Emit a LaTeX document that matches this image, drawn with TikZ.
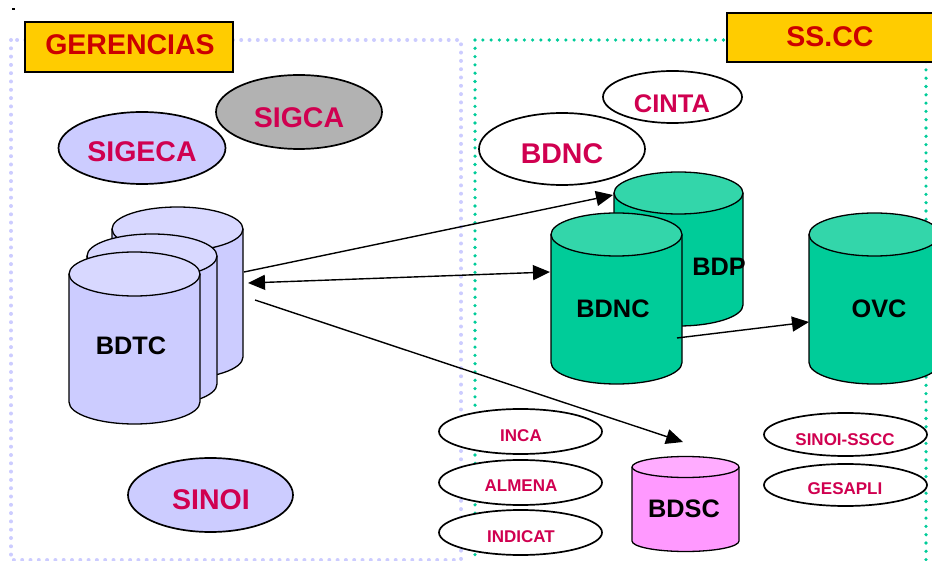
\documentclass[tikz,border=0pt]{standalone}
\usepackage{fontspec}
\setmainfont{Liberation Sans}
\usetikzlibrary{shapes.geometric,arrows.meta}

\definecolor{lav}{RGB}{204,204,255}
\definecolor{lavtop}{RGB}{216,216,255}
\definecolor{sea}{RGB}{0,204,153}
\definecolor{seatop}{RGB}{51,214,170}
\definecolor{pinkdb}{RGB}{255,153,255}
\definecolor{pinktop}{RGB}{255,172,255}
\definecolor{gold}{RGB}{255,204,0}
\definecolor{titlered}{RGB}{204,0,0}
\definecolor{appred}{RGB}{208,0,80}
\definecolor{grayapp}{RGB}{178,178,178}

% database drum: centre x, top centre y, bottom centre y, x radius, y radius, body fill, lid fill
\newcommand\dbdrum[7]{%
  \path[fill=#6] ({#1-#4},#2) -- ({#1-#4},#3)
    arc[start angle=180,end angle=0,x radius=#4,y radius=#5] -- ({#1+#4},#2) -- cycle;
  \draw[drum] ({#1-#4},#2) -- ({#1-#4},#3)
    arc[start angle=180,end angle=0,x radius=#4,y radius=#5] -- ({#1+#4},#2);
  \draw[drum,fill=#7] (#1,#2) ellipse[x radius=#4,y radius=#5];
}

\tikzset{
  drum/.style={draw=black, line width=1.3pt},
  lavframe/.style={draw=lav, line width=4pt, line cap=round, dash pattern=on 0pt off 8.3pt},
  seaframe/.style={draw=sea, line width=3.6pt, line cap=round, dash pattern=on 0pt off 8.3pt},
  titlebox/.style={draw=black, line width=1.3pt, fill=gold},
  titletext/.style={text=titlered, inner sep=0pt, font=\bfseries\fontsize{28.5}{30}\selectfont},
  app/.style={ellipse, draw=black, line width=1.7pt, inner sep=0pt},
  applabel/.style={text=appred, inner sep=0pt, font=\bfseries\fontsize{28.5}{30}\selectfont},
  midlabel/.style={text=appred, inner sep=0pt, font=\bfseries\fontsize{25.5}{27}\selectfont},
  smalllabel/.style={text=appred, inner sep=0pt, font=\bfseries\fontsize{17}{19}\selectfont},
  dblabel/.style={text=black, inner sep=0pt, font=\bfseries\fontsize{25.3}{27}\selectfont},
  link/.style={draw=black, line width=1.4pt, -{Triangle[length=17pt,width=15pt]}},
  duallink/.style={draw=black, line width=1.4pt, {Triangle[length=17pt,width=15pt]}-{Triangle[length=17pt,width=15pt]}},
}

\begin{document}
\begin{tikzpicture}[x=1pt,y=-1pt]
\useasboundingbox (0,0) rectangle (932,561);

% stray mark at the top left
\fill (12,8.5) rectangle (15,9.8);

% dotted group frames
\draw[lavframe] (11,40) rectangle (461,560);
\draw[seaframe] (475,40) rectangle (926,564);

% group titles
\draw[titlebox] (25,22) rectangle (233,72);
\node[titletext] (gerencias) at (130,45) {GERENCIAS};
\draw[titlebox] (727,13) rectangle (940,62);
\node[titletext] (sscc) at (830,37) {SS.CC};

% applications of the management side
\node[app, fill=lav, minimum width=167pt, minimum height=72pt] (sigecaE) at (142,148) {};
\node[applabel] (sigeca) at (142,152) {SIGECA};
\node[app, fill=grayapp, minimum width=166pt, minimum height=74pt] (sigcaE) at (299,112) {};
\node[applabel] (sigca) at (299,118) {SIGCA};
\node[app, fill=lav, minimum width=165pt, minimum height=74pt] (sinoiE) at (210.5,495) {};
\node[applabel] (sinoi) at (211,500) {SINOI};

% applications of the central services
\node[app, fill=white, minimum width=139pt, minimum height=52pt] (cintaE) at (672.5,97) {};
\node[midlabel] (cinta) at (672,104) {CINTA};
\node[app, fill=white, minimum width=166pt, minimum height=72pt] (bdncE) at (562,149) {};
\node[applabel] (bdncapp) at (562,154) {BDNC};

\node[app, fill=white, minimum width=163pt, minimum height=45pt] (incaE) at (520.5,431.5) {};
\node[smalllabel] (inca) at (521,435.5) {INCA};
\node[app, fill=white, minimum width=163pt, minimum height=45pt] (almenaE) at (520.5,482.5) {};
\node[smalllabel] (almena) at (521,486) {ALMENA};
\node[app, fill=white, minimum width=163pt, minimum height=45pt] (indicatE) at (520.5,532.5) {};
\node[smalllabel] (indicat) at (521,536.5) {INDICAT};
\node[app, fill=white, minimum width=163pt, minimum height=43pt] (sinoisE) at (845.5,434.5) {};
\node[smalllabel] (sinoiss) at (845,439.5) {SINOI-SSCC};
\node[app, fill=white, minimum width=163pt, minimum height=42pt] (gesapliE) at (845.5,485) {};
\node[smalllabel] (gesapli) at (845,488.5) {GESAPLI};

% BDTC: three stacked drums
\dbdrum{177.5}{229}{357}{65.5}{22}{lav}{lavtop}
\dbdrum{152}{256}{384}{65}{22}{lav}{lavtop}
\dbdrum{134.5}{274}{402}{65.5}{22}{lav}{lavtop}
\node[dblabel] (bdtc) at (131,346) {BDTC};

% BDP behind BDNC
\dbdrum{678.5}{193}{305}{64.5}{21}{sea}{seatop}
\node[dblabel] (bdp) at (719,267) {BDP};
\dbdrum{616.5}{234.5}{362.5}{65.5}{21.5}{sea}{seatop}
\node[dblabel] (bdnc) at (613,309) {BDNC};

% OVC
\dbdrum{874.5}{234.5}{362.5}{65.5}{21.5}{sea}{seatop}
\node[dblabel] (ovc) at (879,309) {OVC};

% BDSC
\dbdrum{685.5}{467}{541}{53.5}{10.5}{pinkdb}{pinktop}
\node[dblabel] (bdsc) at (684,509) {BDSC};

% connector end points on the drums
\coordinate (bdtcA) at (244,272);
\coordinate (bdtcB) at (248,283);
\coordinate (bdtcC) at (255,300);
\coordinate (bdpIn) at (613,195);
\coordinate (bdncIn) at (550,272);
\coordinate (bdscIn) at (683,442);
\coordinate (bdncOut) at (677,338);
\coordinate (ovcIn) at (809,322);

% data flows
\draw[link] (bdtcA) -- (bdpIn);
\draw[duallink] (bdtcB) -- (bdncIn);
\draw[link] (bdtcC) -- (bdscIn);
\draw[link] (bdncOut) -- (ovcIn);
\end{tikzpicture}
\end{document}
